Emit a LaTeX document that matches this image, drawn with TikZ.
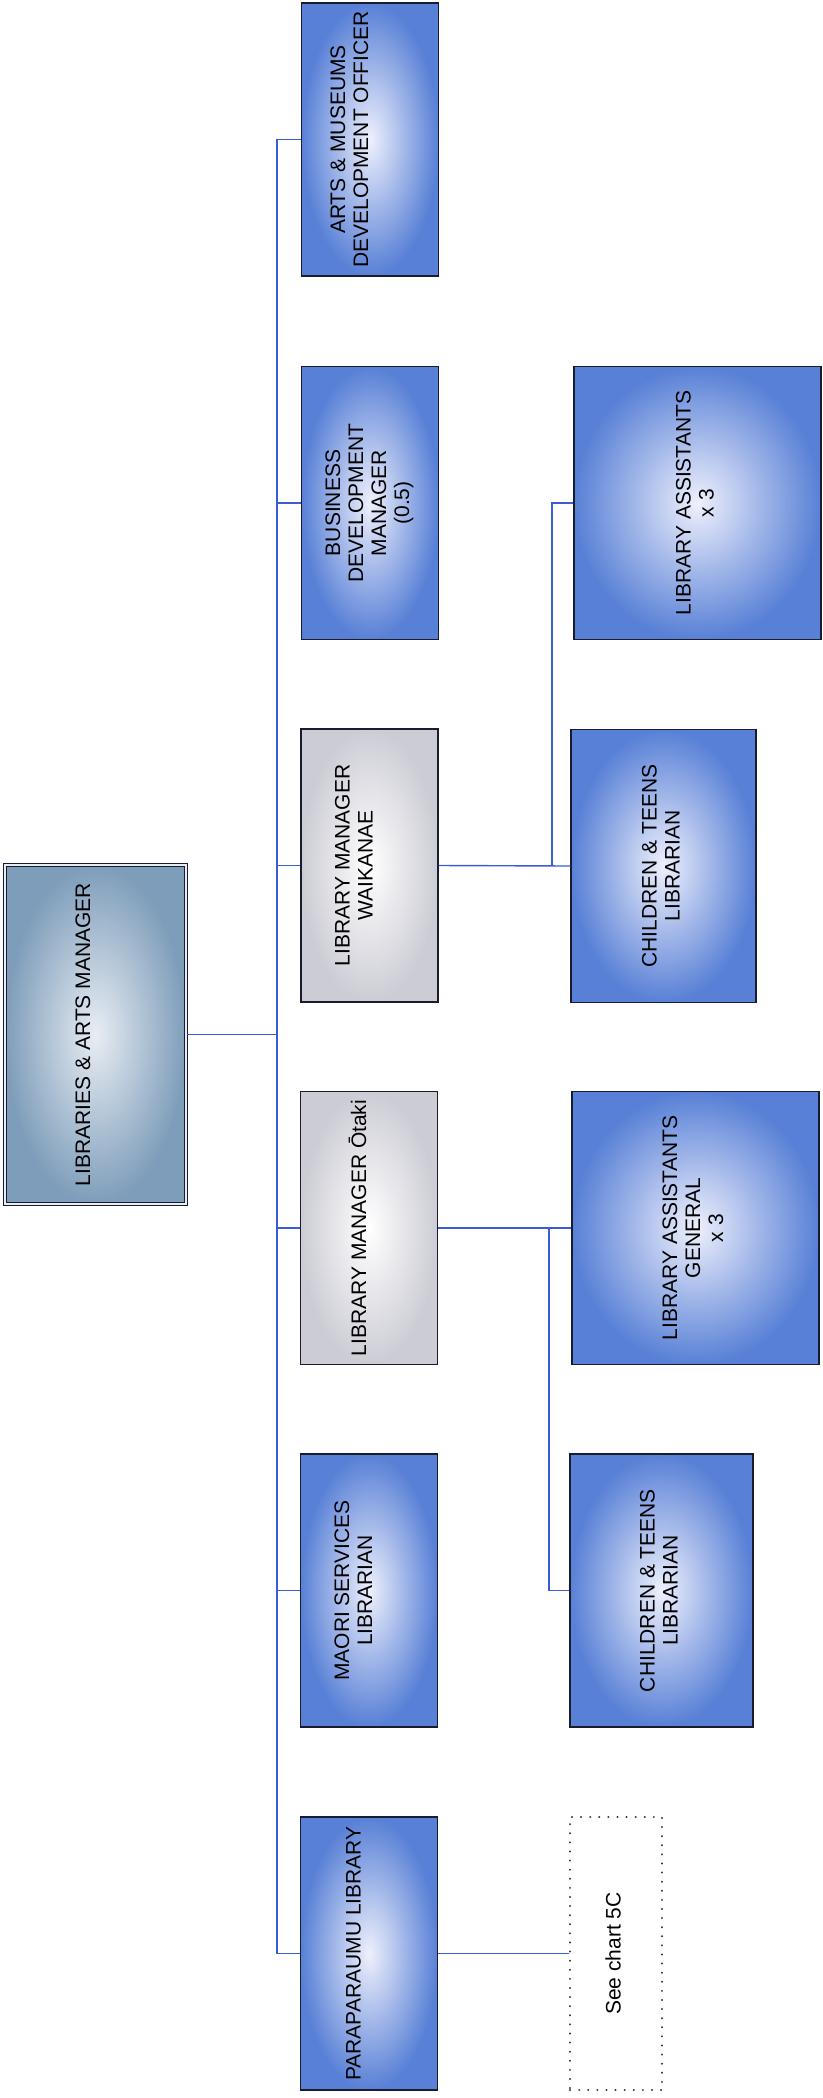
\documentclass[tikz,border=0pt]{standalone}
\usepackage{fontspec}
\setmainfont{Liberation Sans}
\definecolor{boxblue}{RGB}{88,128,214}
\definecolor{blueglow}{RGB}{238,240,252}
\definecolor{boxgrey}{RGB}{204,204,213}
\definecolor{mgrblue}{RGB}{126,157,186}
\definecolor{mgrglow}{RGB}{232,237,243}
\definecolor{linkblue}{RGB}{60,92,214}
\definecolor{edge}{RGB}{25,28,45}
% rotated label, optional extra room on the right pushes text left
\newcommand{\vtext}[2][0pt]{\rotatebox{90}{\begin{tabular}{@{}c@{}}#2\end{tabular}}\hspace*{#1}}

\begin{document}
\begin{tikzpicture}[x=1pt, y=-1pt]
\tikzstyle{post} = [draw=edge, line width=1.2pt, inner sep=0pt, minimum width=137pt, minimum height=273pt, font=\fontsize{21}{23}\selectfont]
\tikzstyle{bluepost} = [post, inner color=blueglow, outer color=boxblue]
\tikzstyle{greypost} = [post, inner color=white, outer color=boxgrey]
\tikzstyle{mgrpost} = [post, inner color=mgrglow, outer color=mgrblue, line width=1pt, double=mgrglow, double distance=2.4pt, minimum width=181pt, minimum height=339pt]
\tikzstyle{seepost} = [post, draw=black!80, line width=2.2pt, dash pattern=on 0.1pt off 9pt, line cap=round, minimum width=92pt]
\tikzstyle{link} = [draw=linkblue, line width=1.4pt]
\useasboundingbox (0,0) rectangle (822,2098);

\node[mgrpost] (mgr) at (95.5,1034.5) {\vtext[20pt]{LIBRARIES \& ARTS MANAGER}};

\node[bluepost] (arts) at (370,139.5) {\vtext[36pt]{ARTS \& MUSEUMS\\DEVELOPMENT OFFICER}};
\node[bluepost] (bus) at (370,503) {\vtext{BUSINESS\\DEVELOPMENT\\MANAGER\\(0.5)}};
\node[greypost] (waik) at (369.5,865.5) {\vtext[26pt]{LIBRARY MANAGER\\WAIKANAE}};
\node[greypost] (otaki) at (369,1228) {\vtext[16pt]{LIBRARY MANAGER Ōtaki}};
\node[bluepost] (maori) at (369,1590.5) {\vtext[26pt]{MAORI SERVICES\\LIBRARIAN}};
\node[bluepost] (para) at (369,1953.5) {\vtext[26pt]{PARAPARAUMU LIBRARY}};

\node[bluepost, minimum width=247pt] (assw) at (697.5,503) {\vtext{LIBRARY ASSISTANTS\\x 3}};
\node[bluepost, minimum width=185pt] (chw) at (663.5,866) {\vtext{CHILDREN \& TEENS\\LIBRARIAN}};
\node[bluepost, minimum width=247pt] (asso) at (695.5,1228) {\vtext{LIBRARY ASSISTANTS\\GENERAL\\x 3}};
\node[bluepost, minimum width=183pt] (cho) at (661.5,1590.5) {\vtext{CHILDREN \& TEENS\\LIBRARIAN}};
\node[seepost] (see) at (616,1953.5) {\vtext{See chart 5C}};

\coordinate (spine) at (277,0);
\coordinate (forkw) at (552,0);
\coordinate (forko) at (549,0);
\draw[link] (mgr.east) -- (mgr.east -| spine);
\draw[link] (arts.west -| spine) -- (para.west -| spine);
\foreach \n in {arts,bus,waik,otaki,maori,para}
  \draw[link] (\n.west -| spine) -- (\n.west);
\draw[link] (waik.east) -- (chw.west);
\draw[link] (chw.west -| forkw) -- (assw.west -| forkw) -- (assw.west);
\draw[link] (otaki.east) -- (asso.west);
\draw[link] (asso.west -| forko) -- (cho.west -| forko) -- (cho.west);
\draw[link] (para.east) -- (see.west);
\end{tikzpicture}
\end{document}
